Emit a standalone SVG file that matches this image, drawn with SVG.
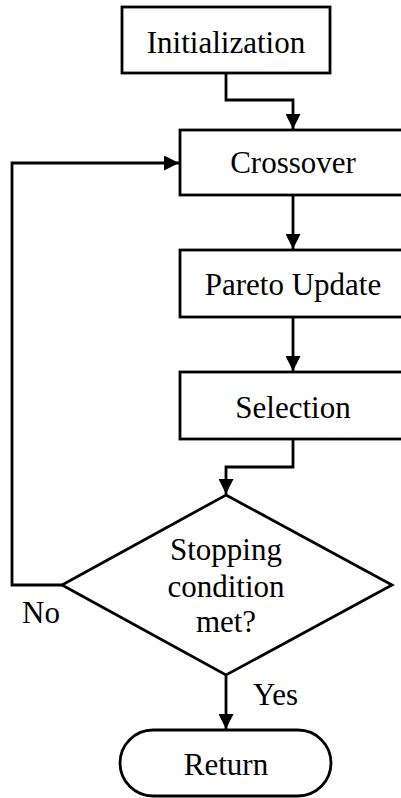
<svg xmlns="http://www.w3.org/2000/svg" width="401" height="798" viewBox="0 0 401 798">
<style>
.box{fill:#fff;stroke:#000;stroke-width:2.8}
.ln{fill:none;stroke:#000;stroke-width:2.8}
.t{font-family:"Liberation Serif","Times New Roman",serif;font-size:31px;fill:#000;text-anchor:middle}
.l{font-family:"Liberation Serif","Times New Roman",serif;font-size:31px;fill:#000}
</style>
<defs>
<marker id="ah" viewBox="0 0 15 15" refX="15" refY="7.5" markerWidth="15" markerHeight="15" markerUnits="userSpaceOnUse" orient="auto">
<path d="M0,0 L15,7.5 L0,15 Z" fill="#000"/>
</marker>
</defs>
<g id="connectors">
<path class="ln" d="M226,73 V100 H293 V129" marker-end="url(#ah)"/>
<path class="ln" d="M293,195 V249" marker-end="url(#ah)"/>
<path class="ln" d="M293,317 V371" marker-end="url(#ah)"/>
<path class="ln" d="M293,439 V467 H226 V494" marker-end="url(#ah)"/>
<path class="ln" d="M62,585 H12 V163 H179" marker-end="url(#ah)"/>
<path class="ln" d="M226,675 V729" marker-end="url(#ah)"/>
<text class="l" x="22" y="623">No</text>
<text class="l" x="253" y="705">Yes</text>
</g>
<g id="init">
<rect class="box" x="122" y="7" width="208" height="66"/>
<text class="t" x="226" y="53">Initialization</text>
</g>
<g id="crossover">
<rect class="box" x="180" y="130" width="226" height="65"/>
<text class="t" x="293" y="173">Crossover</text>
</g>
<g id="pareto">
<rect class="box" x="180" y="250" width="226" height="67"/>
<text class="t" x="293" y="295">Pareto Update</text>
</g>
<g id="selection">
<rect class="box" x="180" y="372" width="226" height="67"/>
<text class="t" x="293" y="418">Selection</text>
</g>
<g id="decision">
<polygon class="box" points="226,495 392,585 226,675 62,585"/>
<text class="t" x="226" y="560">Stopping</text>
<text class="t" x="226" y="597">condition</text>
<text class="t" x="226" y="632">met?</text>
</g>
<g id="return">
<rect class="box" x="120" y="730" width="211" height="66" rx="33" ry="33"/>
<text class="t" x="226" y="775">Return</text>
</g>
</svg>
